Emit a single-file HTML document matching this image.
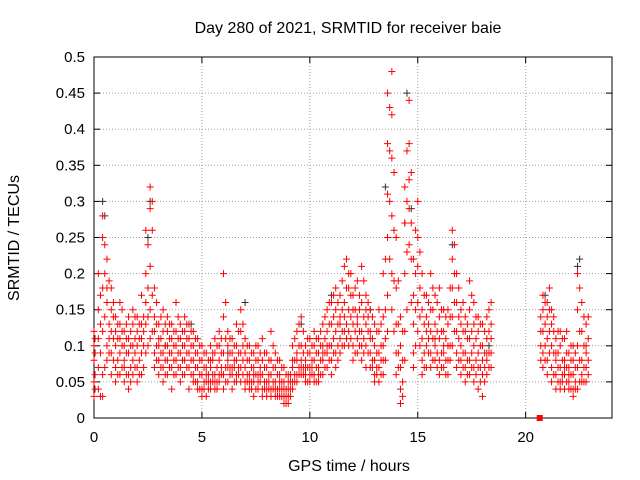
<!DOCTYPE html>
<html><head><meta charset="utf-8"><style>
body{margin:0;background:#fff}
svg{display:block;font-family:"Liberation Sans",sans-serif}
</style></head><body>
<svg id="chart" width="640" height="480" viewBox="0 0 640 480" xmlns="http://www.w3.org/2000/svg">
<rect width="640" height="480" fill="#fff"/>
<text x="348" y="33" font-size="16" text-anchor="middle">Day 280 of 2021, SRMTID for receiver baie</text>
<g id="grid"></g>
<g id="axes"></g>
<g id="marks"></g>
<text x="349" y="471" font-size="16" text-anchor="middle">GPS time / hours</text>
<text transform="translate(19,238) rotate(-90)" font-size="16" text-anchor="middle">SRMTID / TECUs</text>
</svg>
<script>
const xTicks=[0,5,10,15,20];
const yTicks=[0,0.05,0.1,0.15,0.2,0.25,0.3,0.35,0.4,0.45,0.5];
const yTickLabels=["0","0.05","0.1","0.15","0.2","0.25","0.3","0.35","0.4","0.45","0.5"];
const redTimes=[0,0.2,0.4,0.6,0.8,1.0,1.2,1.4,1.6,1.8,2.0,2.2,2.4,2.6,2.8,3.0,3.2,3.4,3.6,3.8,4.0,4.2,4.4,4.6,4.8,5.0,5.2,5.4,5.6,5.8,6.0,6.2,6.4,6.6,6.8,7.0,7.2,7.4,7.6,7.8,8.0,8.2,8.4,8.6,8.8,9.0,9.2,9.4,9.6,9.8,10.0,10.2,10.4,10.6,10.8,11.0,11.2,11.4,11.6,11.8,12.0,12.2,12.4,12.6,12.8,13.0,13.2,13.4,13.6,13.8,14.0,14.2,14.4,14.6,14.8,15.0,15.2,15.4,15.6,15.8,16.0,16.2,16.4,16.6,16.8,17.0,17.2,17.4,17.6,17.8,18.0,18.2,18.4,20.8,21.0,21.2,21.4,21.6,21.8,22.0,22.2,22.4,22.6,22.8];
const redValues=[
[0.08,0.05,0.1,0.03,0.12],[0.11,0.15,0.07,0.04,0.2],[0.28,0.25,0.18,0.12,0.06,0.03],[0.22,0.18,0.16,0.1,0.08],[0.15,0.12,0.09,0.06,0.18],
[0.12,0.1,0.07,0.05,0.14],[0.09,0.13,0.06,0.11,0.16],[0.08,0.1,0.05,0.12,0.07],[0.06,0.11,0.09,0.14,0.04],[0.13,0.1,0.15,0.08,0.06],
[0.1,0.12,0.07,0.14,0.05],[0.09,0.11,0.17,0.06,0.13],[0.2,0.16,0.13,0.09,0.26],[0.32,0.29,0.21,0.15,0.11],[0.18,0.14,0.12,0.09,0.07],
[0.1,0.13,0.08,0.06,0.11],[0.12,0.09,0.07,0.15,0.05],[0.1,0.08,0.12,0.06,0.14],[0.09,0.11,0.13,0.07,0.04],[0.12,0.08,0.1,0.16,0.06],
[0.09,0.07,0.11,0.13,0.05],[0.1,0.14,0.08,0.06,0.12],[0.13,0.09,0.07,0.11,0.04],[0.08,0.1,0.06,0.05,0.12],[0.07,0.09,0.05,0.04,0.11],
[0.06,0.08,0.04,0.1,0.03],[0.05,0.07,0.09,0.03,0.06],[0.07,0.05,0.1,0.04,0.08],[0.06,0.09,0.04,0.11,0.05],[0.08,0.06,0.12,0.05,0.1],
[0.2,0.14,0.09,0.06,0.04],[0.1,0.07,0.05,0.12,0.08],[0.06,0.09,0.04,0.11,0.07],[0.08,0.13,0.05,0.1,0.06],[0.15,0.12,0.07,0.05,0.09],
[0.07,0.05,0.09,0.04,0.11],[0.06,0.08,0.04,0.1,0.05],[0.07,0.05,0.09,0.03,0.06],[0.05,0.08,0.04,0.1,0.06],[0.06,0.04,0.08,0.03,0.11],
[0.05,0.07,0.03,0.09,0.04],[0.06,0.04,0.08,0.12,0.03],[0.05,0.07,0.03,0.09,0.04],[0.04,0.06,0.03,0.08,0.05],[0.03,0.05,0.02,0.07,0.04],
[0.03,0.02,0.05,0.04,0.06],[0.07,0.05,0.1,0.04,0.08],[0.09,0.12,0.06,0.08,0.05],[0.1,0.07,0.14,0.06,0.08],[0.08,0.06,0.1,0.05,0.07],
[0.07,0.09,0.05,0.11,0.06],[0.08,0.06,0.1,0.05,0.12],[0.07,0.09,0.06,0.11,0.05],[0.1,0.08,0.13,0.06,0.09],[0.12,0.09,0.15,0.07,0.1],
[0.13,0.1,0.16,0.08,0.06],[0.12,0.15,0.09,0.18,0.07],[0.14,0.11,0.17,0.09,0.13],[0.16,0.12,0.21,0.1,0.14],[0.2,0.15,0.12,0.18,0.1],
[0.17,0.13,0.1,0.15,0.08],[0.14,0.11,0.19,0.09,0.13],[0.16,0.12,0.21,0.1,0.08],[0.13,0.17,0.1,0.15,0.07],[0.12,0.09,0.15,0.07,0.11],
[0.1,0.08,0.13,0.06,0.05],[0.09,0.07,0.12,0.05,0.15],[0.14,0.2,0.1,0.08,0.06],[0.38,0.31,0.25,0.17,0.12,0.45],[0.48,0.42,0.36,0.28,0.2,0.15],
[0.25,0.18,0.13,0.09,0.06],[0.14,0.1,0.07,0.04,0.02],[0.32,0.27,0.2,0.12,0.08],[0.44,0.38,0.33,0.29,0.24],[0.22,0.17,0.13,0.09,0.07],
[0.3,0.25,0.21,0.16,0.12],[0.2,0.15,0.11,0.08,0.06],[0.14,0.1,0.17,0.07,0.12],[0.12,0.09,0.2,0.07,0.15],[0.13,0.1,0.17,0.08,0.11],
[0.11,0.08,0.14,0.06,0.18],[0.12,0.09,0.15,0.07,0.1],[0.1,0.08,0.13,0.06,0.15],[0.22,0.18,0.14,0.1,0.26],[0.16,0.12,0.09,0.07,0.2],
[0.13,0.1,0.08,0.15,0.06],[0.12,0.09,0.07,0.14,0.05],[0.11,0.15,0.08,0.19,0.06],[0.1,0.13,0.07,0.16,0.05],[0.09,0.12,0.07,0.14,0.04],
[0.1,0.08,0.13,0.06,0.03],[0.11,0.08,0.14,0.06,0.09],[0.13,0.09,0.16,0.07,0.11],
[0.15,0.12,0.17,0.09,0.07],[0.14,0.11,0.16,0.08,0.06],[0.1,0.13,0.07,0.05,0.15],[0.08,0.06,0.11,0.04,0.09],[0.07,0.1,0.05,0.12,0.04],
[0.08,0.06,0.11,0.04,0.07],[0.07,0.05,0.09,0.04,0.06],[0.06,0.08,0.04,0.1,0.03],[0.15,0.1,0.07,0.04,0.2],[0.12,0.08,0.06,0.16,0.05],[0.1,0.07,0.13,0.05,0.09]];
const redTimes2=[0.05,0.3,0.5,0.7,0.9,1.1,1.3,1.5,1.7,1.9,2.1,2.3,2.5,2.7,2.9,3.1,3.3,3.5,3.7,3.9,4.1,4.3,4.5,4.7,4.9,5.1,5.3,5.5,5.7,5.9,6.1,6.3,6.5,6.7,6.9,7.1,7.3,7.5,7.7,7.9,8.1,8.3,8.5,8.7,8.9,9.1,9.3,9.5,9.7,9.9,10.1,10.3,10.5,10.7,10.9,11.1,11.3,11.5,11.7,11.9,12.1,12.3,12.5,12.7,12.9,13.1,13.3,13.5,13.7,13.9,14.1,14.3,14.5,14.7,14.9,15.1,15.3,15.5,15.7,15.9,16.1,16.3,16.5,16.7,16.9,17.1,17.3,17.5,17.7,17.9,18.1,18.3,20.7,20.9,21.1,21.3,21.5,21.7,21.9,22.1,22.3,22.5,22.7,22.9];
const redValues2=[
[0.09,0.06,0.11,0.04],[0.13,0.09,0.17,0.03],[0.24,0.2,0.14,0.07],[0.19,0.13,0.09,0.11],[0.14,0.11,0.08,0.16],
[0.11,0.08,0.13,0.06],[0.1,0.07,0.12,0.15],[0.09,0.06,0.11,0.13],[0.07,0.1,0.12,0.05],[0.11,0.09,0.14,0.07],
[0.11,0.08,0.13,0.06],[0.1,0.14,0.12,0.07],[0.24,0.18,0.14,0.1],[0.3,0.26,0.17,0.12],[0.16,0.13,0.1,0.08],
[0.11,0.09,0.07,0.14],[0.1,0.08,0.13,0.06],[0.11,0.09,0.07,0.13],[0.1,0.12,0.08,0.06],[0.11,0.09,0.14,0.07],
[0.1,0.08,0.12,0.06],[0.11,0.13,0.09,0.07],[0.12,0.08,0.1,0.06],[0.09,0.07,0.11,0.05],[0.08,0.06,0.1,0.04],
[0.07,0.05,0.09,0.04],[0.06,0.08,0.04,0.05],[0.06,0.08,0.05,0.09],[0.07,0.05,0.1,0.04],[0.09,0.07,0.11,0.06],
[0.16,0.11,0.07,0.05],[0.09,0.06,0.11,0.07],[0.07,0.1,0.05,0.08],[0.09,0.12,0.06,0.07],[0.13,0.1,0.06,0.08],
[0.08,0.06,0.1,0.05],[0.07,0.05,0.09,0.04],[0.06,0.08,0.04,0.1],[0.06,0.09,0.05,0.07],[0.07,0.05,0.09,0.04],
[0.06,0.04,0.08,0.05],[0.05,0.07,0.04,0.1],[0.06,0.04,0.08,0.03],[0.05,0.03,0.07,0.04],[0.04,0.03,0.06,0.02],
[0.04,0.03,0.06,0.05],[0.08,0.06,0.11,0.05],[0.1,0.07,0.13,0.06],[0.09,0.12,0.07,0.06],[0.07,0.09,0.05,0.11],
[0.08,0.06,0.1,0.07],[0.07,0.09,0.05,0.11],[0.08,0.1,0.06,0.12],[0.11,0.09,0.14,0.07],[0.13,0.1,0.16,0.08],
[0.14,0.11,0.17,0.09],[0.13,0.16,0.1,0.08],[0.15,0.12,0.19,0.1],[0.18,0.13,0.22,0.11],[0.17,0.14,0.11,0.2],
[0.15,0.12,0.18,0.09],[0.15,0.12,0.17,0.1],[0.14,0.11,0.19,0.09],[0.12,0.16,0.09,0.14],[0.11,0.08,0.14,0.07],
[0.09,0.07,0.12,0.06],[0.1,0.08,0.13,0.06],[0.22,0.15,0.11,0.08],[0.43,0.37,0.3,0.22],[0.34,0.26,0.19,0.12],
[0.19,0.13,0.09,0.07],[0.12,0.08,0.05,0.03],[0.37,0.3,0.23,0.15],[0.34,0.27,0.22,0.16],[0.26,0.2,0.15,0.1],
[0.23,0.18,0.14,0.1],[0.17,0.13,0.09,0.07],[0.13,0.16,0.09,0.11],[0.11,0.15,0.08,0.18],[0.12,0.09,0.16,0.07],
[0.12,0.09,0.15,0.07],[0.11,0.08,0.14,0.06],[0.14,0.1,0.18,0.08],[0.24,0.2,0.16,0.12],[0.14,0.11,0.08,0.18],
[0.12,0.09,0.16,0.07],[0.11,0.08,0.13,0.06],[0.12,0.09,0.17,0.07],[0.11,0.08,0.14,0.06],[0.1,0.07,0.13,0.05],
[0.09,0.07,0.12,0.05],[0.12,0.09,0.15,0.07],[0.14,0.1,0.08,0.12],
[0.16,0.13,0.1,0.08],[0.15,0.12,0.18,0.09],[0.12,0.09,0.14,0.06],[0.09,0.07,0.12,0.05],[0.08,0.06,0.11,0.05],
[0.07,0.09,0.05,0.12],[0.06,0.08,0.04,0.1],[0.07,0.05,0.09,0.04],[0.12,0.08,0.18,0.05],[0.14,0.1,0.07,0.05],[0.11,0.08,0.14,0.06],[0.09,0.06,0.12,0.05]];
const blackTimes=[0.4,0.5,2.6,2.5,4.5,7.0,11.0,13.5,14.5,14.4,14.7,16.6,18.3,20.9,22.5,22.4,9.6,12.8,3.3,6.2];
const blackValues=[0.3,0.28,0.3,0.25,0.13,0.16,0.17,0.32,0.45,0.27,0.29,0.24,0.1,0.17,0.22,0.21,0.13,0.15,0.1,0.09];
const markerTimes=[20.65];
const markerValues=[0];

const X0=94,X1=612,Y0=418,Y1=57,XMAX=24,YMAX=0.5;
function sx(t){return X0+(X1-X0)*t/XMAX;}
function sy(v){return Y0-(Y0-Y1)*v/YMAX;}
const NS="http://www.w3.org/2000/svg";
const grid=document.getElementById('grid'),axes=document.getElementById('axes'),marks=document.getElementById('marks');
function mk(tag,attrs,parent){const e=document.createElementNS(NS,tag);for(const k in attrs)e.setAttribute(k,attrs[k]);parent.appendChild(e);return e;}
yTicks.forEach((v,i)=>{
  if(v>0&&v<YMAX){const g=mk('line',{x1:X0,x2:X1,y1:sy(v),y2:sy(v),stroke:'#a0a0a0','stroke-dasharray':'1,2'},grid);
  
  }
  const t=mk('line',{x1:X0,x2:X0+6,y1:sy(v),y2:sy(v),stroke:'#000'},axes);
  
  
  mk('line',{x1:X1,x2:X1-6,y1:sy(v),y2:sy(v),stroke:'#000'},axes);
  const l=mk('text',{x:X0-9,y:sy(v)+5,'font-size':15,'text-anchor':'end'},axes);l.textContent=yTickLabels[i];
  
  
});
xTicks.forEach(v=>{
  if(v>0){const g=mk('line',{x1:sx(v),x2:sx(v),y1:Y0,y2:Y1,stroke:'#a0a0a0','stroke-dasharray':'1,2'},grid);
  
  }
  const t=mk('line',{x1:sx(v),x2:sx(v),y1:Y0,y2:Y0-6,stroke:'#000'},axes);
  
  
  mk('line',{x1:sx(v),x2:sx(v),y1:Y1,y2:Y1+6,stroke:'#000'},axes);
  const l=mk('text',{x:sx(v),y:Y0+24,'font-size':15,'text-anchor':'middle'},axes);l.textContent=String(v);
  
  
});
const frame=mk('rect',{x:X0,y:Y1,width:X1-X0,height:Y0-Y1,fill:'none',stroke:'#000'},axes);


function plus(t,v,color,name){
  const x=sx(t),y=sy(v);
  const p=mk('path',{d:`M${x-3.5},${y}h7M${x},${y-3.5}v7`,stroke:color,'stroke-width':1,fill:'none'},marks);
  
  
}
blackTimes.forEach((t,i)=>plus(t,blackValues[i],'#303030','black-point'));
redTimes.forEach((t,i)=>redValues[i].forEach(v=>plus(t,v,'#ff0000','red-point')));
redTimes2.forEach((t,i)=>redValues2[i].forEach(v=>plus(t,v,'#ff0000','red-point')));
markerTimes.forEach((t,i)=>{
  const r=mk('rect',{x:sx(t)-3,y:sy(markerValues[i])-3,width:6,height:6,fill:'#ff0000'},marks);
  
  
});
</script>
</body></html>
